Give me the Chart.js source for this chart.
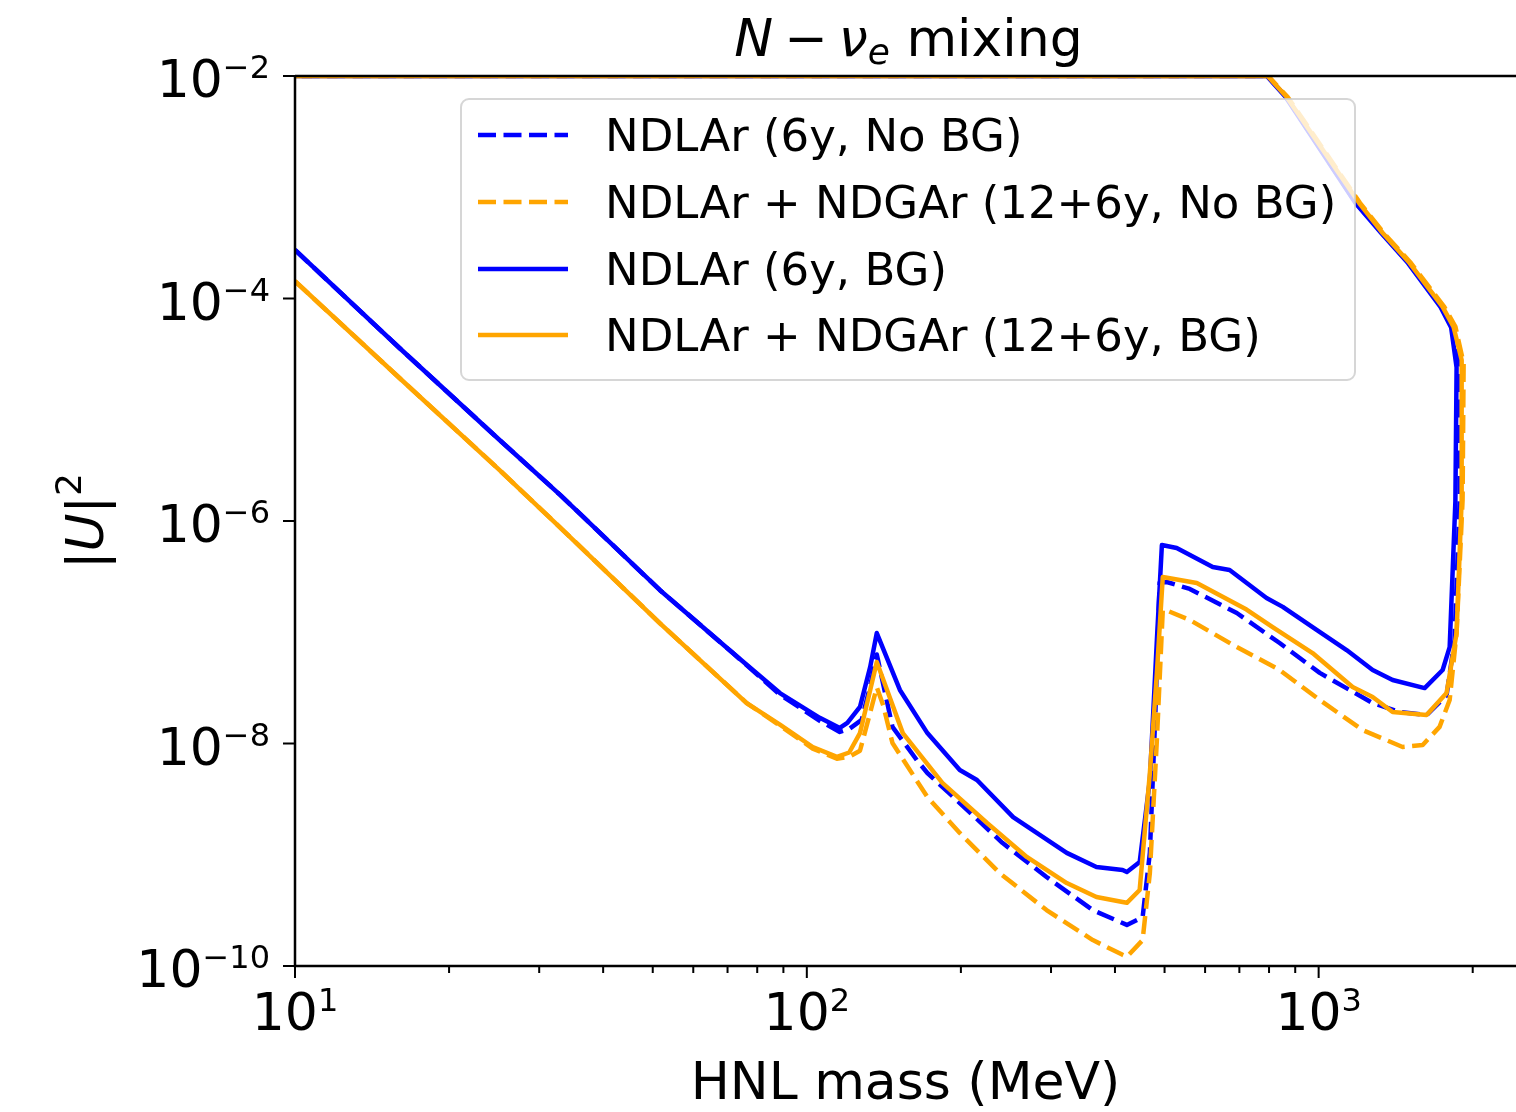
<!DOCTYPE html>
<html>
<head>
<meta charset="utf-8">
<title>N − νe mixing</title>
<script src="https://cdn.jsdelivr.net/npm/chart.js@4.4.1/dist/chart.umd.min.js"></script>
<style>
  html, body { margin: 0; padding: 0; background: #fff; }
  #wrap { width: 1516px; height: 1112px; }
</style>
</head>
<body>
<div id="wrap"><canvas id="hnlChart" width="1516" height="1112"></canvas></div>
<script>
// HNL mass (MeV) and |U|^2, one pair of arrays per curve.
// Each curve runs along the lower edge, climbs near 1.9 GeV, comes back
// down the upper edge and then along the top of the frame.

// NDLAr (6y, No BG)
const massLArNoBG = [10, 16, 25.1, 33, 51.6, 71.7, 88.6, 106, 116, 121, 128, 133, 137, 147, 164,
  172, 199, 241, 294, 362, 422, 453, 468, 480, 489, 505, 560, 692, 839, 1005, 1275, 1439, 1625,
  1778, 1843, 1886, 1886, 1825, 1740, 1500, 1330, 1183, 864, 794, 10];
const u2LArNoBG = [2.73e-4, 3.59e-5, 5.35e-6, 1.71e-6, 2.4e-7, 6.5e-8, 2.75e-8, 1.6e-8, 1.27e-8,
  1.35e-8, 1.63e-8, 3.3e-8, 6.3e-8, 1.41e-8, 7.1e-9, 5.43e-9, 2.92e-9, 1.28e-9, 6.31e-10, 3.18e-10,
  2.34e-10, 2.75e-10, 1.04e-9, 2e-8, 2.8e-7, 2.83e-7, 2.45e-7, 1.49e-7, 8.0e-8, 4.31e-8, 2.31e-8,
  1.92e-8, 1.8e-8, 2.7e-8, 8.5e-8, 1.55e-6, 2.6e-5, 5.5e-5, 8.4e-5, 2.08e-4, 3.88e-4, 7.21e-4,
  6.47e-3, 1e-2, 1e-2];

// NDLAr + NDGAr (12+6y, No BG)
const massNDNoBG = [10, 16, 25.1, 32.9, 51.6, 76.3, 88.6, 102.7, 114.5, 121, 127, 133, 137, 141,
  147, 172, 199, 238, 294, 362, 414, 422, 453, 468, 483, 496, 500, 560, 692, 839, 1005, 1219, 1459,
  1597, 1723, 1803, 1860, 1911, 1920, 1850, 1760, 1515, 1340, 1205, 870, 797, 10];
const u2NDNoBG = [1.43e-4, 1.93e-5, 2.87e-6, 8.83e-7, 1.21e-7, 2.31e-8, 1.45e-8, 9.0e-9, 7.3e-9,
  7.6e-9, 8.6e-9, 1.9e-8, 3.2e-8, 2.2e-8, 1.01e-8, 3.3e-9, 1.57e-9, 6.86e-10, 3.18e-10, 1.71e-10,
  1.26e-10, 1.21e-10, 1.71e-10, 6.86e-10, 1.07e-8, 1.58e-7, 1.6e-7, 1.29e-7, 7.36e-8, 4.58e-8,
  2.46e-8, 1.32e-8, 9.3e-9, 9.7e-9, 1.41e-8, 2.46e-8, 9.84e-8, 1.55e-6, 2.6e-5, 5.6e-5, 8.4e-5,
  2.08e-4, 3.88e-4, 7.21e-4, 6.47e-3, 1e-2, 1e-2];

// NDLAr (6y, BG)
const massLArBG = [10, 16, 25.1, 33, 51.6, 71.7, 88.6, 106, 116, 120, 127, 133, 137, 152, 172, 199,
  215, 253, 322, 368, 414, 422, 447, 468, 483, 494, 528, 621, 670, 791, 851, 991, 1134, 1275, 1395,
  1611, 1747, 1803, 1850, 1860, 1815, 1730, 1495, 1325, 1180, 862, 792, 10];
const u2LArBG = [2.73e-4, 3.59e-5, 5.35e-6, 1.71e-6, 2.4e-7, 6.5e-8, 2.84e-8, 1.7e-8, 1.38e-8,
  1.53e-8, 2.13e-8, 4.88e-8, 9.84e-8, 3.03e-8, 1.24e-8, 5.78e-9, 4.7e-9, 2.18e-9, 1.04e-9, 7.76e-10,
  7.3e-10, 7.0e-10, 8.6e-10, 4.7e-9, 8.5e-8, 6.08e-7, 5.72e-7, 3.86e-7, 3.63e-7, 2.03e-7, 1.69e-7,
  1.05e-7, 6.92e-8, 4.58e-8, 3.72e-8, 3.15e-8, 4.58e-8, 7.36e-8, 1.5e-6, 2.4e-5, 5.5e-5, 8.4e-5,
  2.08e-4, 3.88e-4, 7.21e-4, 6.47e-3, 1e-2, 1e-2];

// NDLAr + NDGAr (12+6y, BG)
const massNDBG = [10, 16, 25.1, 32.9, 51.6, 76.3, 88.6, 102.7, 114.5, 121, 127, 133, 137, 154, 184,
  225, 269, 322, 368, 414, 422, 447, 468, 483, 496, 578, 723, 813, 973, 1165, 1275, 1395, 1625, 1778,
  1860, 1903, 1903, 1835, 1747, 1506, 1334, 1200, 866, 795, 10];
const u2NDBG = [1.43e-4, 1.93e-5, 2.87e-6, 8.83e-7, 1.21e-7, 2.31e-8, 1.48e-8, 9.3e-9, 7.57e-9,
  8.3e-9, 1.24e-8, 3.03e-8, 5.41e-8, 1.24e-8, 4.42e-9, 1.93e-9, 9.55e-10, 5.57e-10, 4.17e-10,
  3.76e-10, 3.7e-10, 4.82e-10, 5.43e-9, 4.31e-8, 3.14e-7, 2.77e-7, 1.6e-7, 1.11e-7, 6.5e-8, 3.22e-8,
  2.62e-8, 1.92e-8, 1.8e-8, 2.84e-8, 9.84e-8, 1.55e-6, 2.8e-5, 5.55e-5, 8.4e-5, 2.08e-4, 3.88e-4,
  7.21e-4, 6.47e-3, 1e-2, 1e-2];

const legendLabels = [
  'NDLAr (6y, No BG)',
  'NDLAr + NDGAr (12+6y, No BG)',
  'NDLAr (6y, BG)',
  'NDLAr + NDGAr (12+6y, BG)'
];
const xTickExps = [1, 2, 3];
const yTickExps = [-2, -4, -6, -8, -10];
const xMin = 10, xMax = 2430, yMin = 1e-10, yMax = 1e-2;

const BLUE = '#0000ff';
const ORANGE = '#ffa500';
const LINE_W = 4.5;
const DASH = [18, 7.5];
const FONT = "'DejaVu Sans', sans-serif";
const f = (size, italic) => (italic ? 'italic ' : '') + size + 'px ' + FONT;

function toPoints(mass, u2) {
    return mass.map((m, i) => ({ x: m, y: u2[i] }));
}

// matplotlib draws in legend order, so the last curve ends on top
const curves = [
    { mass: massLArNoBG, u2: u2LArNoBG, color: BLUE, dash: DASH, order: 4 },
    { mass: massNDNoBG, u2: u2NDNoBG, color: ORANGE, dash: DASH, order: 3 },
    { mass: massLArBG, u2: u2LArBG, color: BLUE, dash: [], order: 2 },
    { mass: massNDBG, u2: u2NDBG, color: ORANGE, dash: [], order: 1 }
];

const datasets = curves.map((c, i) => ({
    label: legendLabels[i],
    data: toPoints(c.mass, c.u2),
    borderColor: c.color,
    backgroundColor: c.color,
    borderWidth: LINE_W,
    borderDash: c.dash,
    borderJoinStyle: 'round',
    borderCapStyle: 'butt',
    showLine: true,
    fill: false,
    tension: 0,
    pointRadius: 0,
    clip: 0,
    order: c.order
}));

// text made of runs, so exponents and italics can be set like mathtext
function runsWidth(ctx, runs) {
    let w = 0;
    runs.forEach(r => {
        ctx.font = r.font;
        w += (r.pre || 0) + ctx.measureText(r.text).width + (r.post || 0);
    });
    return w;
}

function drawRuns(ctx, runs, x, y) {
    let cx = x;
    runs.forEach(r => {
        ctx.font = r.font;
        cx += r.pre || 0;
        ctx.fillText(r.text, cx, y + (r.dy || 0));
        cx += ctx.measureText(r.text).width + (r.post || 0);
    });
}

function powerRuns(exp) {
    return [
        { text: '10', font: f(52) },
        { text: String(exp).replace('-', '\u2212'), font: f(32), dy: -19 }
    ];
}

const axesPlugin = {
    id: 'mplAxes',
    afterDatasetsDraw(chart) {
        const ctx = chart.ctx;
        // legend, drawn over the curves like matplotlib's framed legend
        const box = { x: 461, y: 99, w: 894, h: 281, r: 8 };
        ctx.save();
        ctx.beginPath();
        ctx.roundRect(box.x, box.y, box.w, box.h, box.r);
        ctx.fillStyle = 'rgba(255,255,255,0.8)';
        ctx.fill();
        ctx.strokeStyle = 'rgba(204,204,204,0.8)';
        ctx.lineWidth = 2;
        ctx.stroke();
        const rows = [135, 202, 269, 335];
        ctx.textAlign = 'left';
        ctx.textBaseline = 'alphabetic';
        ctx.fillStyle = '#000';
        curves.forEach((c, i) => {
            ctx.beginPath();
            ctx.setLineDash(c.dash);
            ctx.strokeStyle = c.color;
            ctx.lineWidth = LINE_W;
            ctx.moveTo(478, rows[i]);
            ctx.lineTo(568, rows[i]);
            ctx.stroke();
            ctx.setLineDash([]);
            ctx.font = f(45);
            ctx.fillText(legendLabels[i], 605, rows[i] + 16);
        });
        ctx.restore();
    },
    afterDraw(chart) {
        const ctx = chart.ctx;
        const area = chart.chartArea;
        const xs = chart.scales.x;
        const ys = chart.scales.y;
        ctx.save();
        ctx.strokeStyle = '#000';
        ctx.fillStyle = '#000';
        ctx.lineCap = 'butt';

        // spines (the right one is cut off in the original)
        ctx.lineWidth = 2.5;
        ctx.beginPath();
        ctx.moveTo(area.left, area.top);
        ctx.lineTo(area.right, area.top);
        ctx.moveTo(area.left, area.top);
        ctx.lineTo(area.left, area.bottom);
        ctx.lineTo(area.right, area.bottom);
        ctx.stroke();

        // x ticks: majors at decades, minors at 2..9
        ctx.lineWidth = 2;
        ctx.beginPath();
        for (let e = 1; e <= 3; e++) {
            for (let k = 1; k <= 9; k++) {
                const v = k * Math.pow(10, e);
                if (v < xMin || v > xMax) continue;
                const px = xs.getPixelForValue(v);
                ctx.moveTo(px, area.bottom);
                ctx.lineTo(px, area.bottom + (k === 1 ? 12 : 7));
            }
        }
        yTickExps.forEach(e => {
            const py = ys.getPixelForValue(Math.pow(10, e));
            ctx.moveTo(area.left - 12, py);
            ctx.lineTo(area.left, py);
        });
        ctx.stroke();

        ctx.textAlign = 'left';
        ctx.textBaseline = 'alphabetic';
        xTickExps.forEach(e => {
            const runs = powerRuns(e);
            const px = xs.getPixelForValue(Math.pow(10, e));
            drawRuns(ctx, runs, px - runsWidth(ctx, runs) / 2, area.bottom + 64);
        });
        yTickExps.forEach(e => {
            const runs = powerRuns(e);
            const py = ys.getPixelForValue(Math.pow(10, e));
            drawRuns(ctx, runs, 270 - runsWidth(ctx, runs), py + 21);
        });

        // x label
        ctx.font = f(52);
        ctx.textAlign = 'center';
        ctx.fillText('HNL mass (MeV)', (area.left + area.right) / 2, 1099);
        ctx.textAlign = 'left';

        // y label |U|^2, rotated
        const yRuns = [
            { text: '|', font: f(52) },
            { text: 'U', font: f(52, true) },
            { text: '|', font: f(52) },
            { text: '2', font: f(36), dy: -22 }
        ];
        ctx.save();
        ctx.translate(103, (area.top + area.bottom) / 2);
        ctx.rotate(-Math.PI / 2);
        drawRuns(ctx, yRuns, -runsWidth(ctx, yRuns) / 2, 0);
        ctx.restore();

        // title  N − ν_e mixing
        const tRuns = [
            { text: 'N', font: f(52, true) },
            { text: '\u2212', font: f(52), pre: 11, post: 11 },
            { text: '\u03bd', font: f(52, true) },
            { text: 'e', font: f(36, true), dy: 8 },
            { text: ' mixing', font: f(52) }
        ];
        drawRuns(ctx, tRuns, (area.left + area.right) / 2 - runsWidth(ctx, tRuns) / 2 + 3, 56);
        ctx.restore();
    }
};

const chartCtx = document.getElementById('hnlChart').getContext('2d');
new Chart(chartCtx, {
    type: 'scatter',
    data: { datasets: datasets },
    options: {
        responsive: false,
        animation: false,
        events: [],
        layout: { padding: { top: 76, right: 0, bottom: 0, left: 0 } },
        plugins: {
            legend: { display: false },
            title: { display: false },
            tooltip: { enabled: false }
        },
        scales: {
            x: {
                type: 'logarithmic',
                min: xMin,
                max: xMax,
                grid: { display: false },
                border: { display: false },
                ticks: { display: false },
                afterFit: s => { s.height = 146; }
            },
            y: {
                type: 'logarithmic',
                min: yMin,
                max: yMax,
                grid: { display: false },
                border: { display: false },
                ticks: { display: false },
                afterFit: s => { s.width = 295; }
            }
        }
    },
    plugins: [axesPlugin]
});
</script>
</body>
</html>
